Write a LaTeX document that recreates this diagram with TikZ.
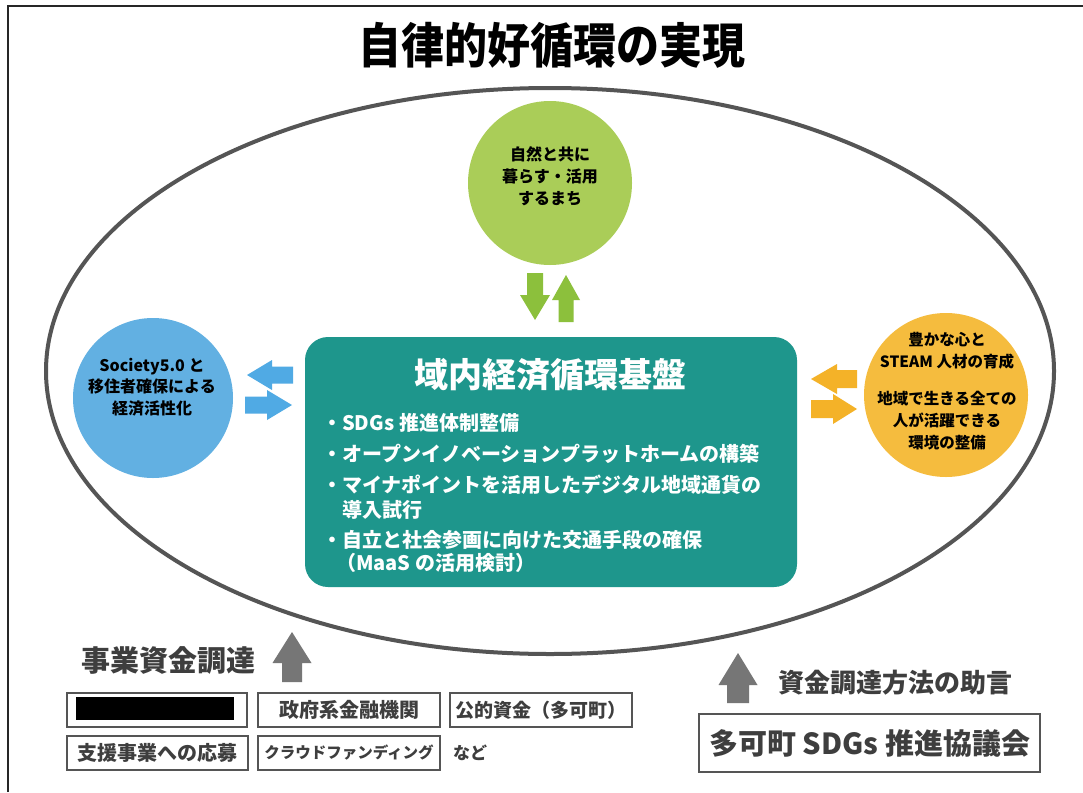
\documentclass[tikz,border=0pt]{standalone}
\usepackage{graphicx}
\usepackage{fontspec}
\setmainfont{Noto Sans CJK JP}
\definecolor{cgreen}{RGB}{170,205,88}
\definecolor{cgreenA}{RGB}{140,192,60}
\definecolor{cblue}{RGB}{98,176,226}
\definecolor{cblueA}{RGB}{80,170,228}
\definecolor{corange}{RGB}{245,188,62}
\definecolor{corangeA}{RGB}{244,178,40}
\definecolor{cteal}{RGB}{30,150,140}
\definecolor{cgraytext}{RGB}{62,62,62}
\definecolor{cgrayarrow}{RGB}{118,118,118}
\definecolor{cline}{RGB}{85,85,85}
\newcommand\myfs[2]{\fontsize{#1}{#2}\selectfont}
\tikzset{
  pics/blockarrow/.style args={#1/#2/#3/#4}{code={
    \fill (0,-#4/2) -- (#1-#2,-#4/2) -- (#1-#2,-#3/2) -- (#1,0) -- (#1-#2,#3/2) -- (#1-#2,#4/2) -- (0,#4/2) -- cycle;}},
  bubble/.style={circle, inner sep=0pt, minimum size=#1},
  bubbletext/.style={align=center, inner sep=0pt, font=\bfseries\myfs{16}{22}},
  itemtext/.style={anchor=west, inner sep=0pt, text=white, font=\bfseries\myfs{20}{25}},
  smallbox/.style={draw=cline, line width=1.4pt, minimum width=182pt, minimum height=34pt, inner sep=0pt, text=cgraytext},
  headtext/.style={inner sep=0pt, text=cgraytext, font=\bfseries\myfs{#1}{#1}},
}
\begin{document}
\begin{tikzpicture}[x=1pt,y=-1pt]
\useasboundingbox (0,0) rectangle (1083,792);
\fill[white] (0,0) rectangle (1083,792);
% frame
\coordinate (fr1) at (8,6);
\coordinate (fr2) at (1083,6);
\coordinate (fr3) at (8,792);
\draw[line width=2pt, black!85] (fr3) -- (fr1) -- (fr2);

% title
\node[inner sep=0pt, font=\bfseries\myfs{43}{43}] (title) at (552,45) {\scalebox{1.0}[1.12]{自律的好循環の実現}};

% big ellipse
\node[inner sep=0pt] (ecenter) at (550,371) {};
\draw[cline, line width=4pt] (ecenter) ellipse [x radius=504, y radius=283];

% green circle
\node[bubble=164pt, fill=cgreen] (nature) at (550,183) {};
\node[bubbletext] (naturetext) at (550,176) {自然と共に\\暮らす・活用\\するまち};

% blue circle
\node[bubble=160pt, fill=cblue] (society) at (153,398) {};
\node[bubbletext, font=\bfseries\myfs{16}{21.5}] (societytext) at (152,387) {Society5.0 と\\移住者確保による\\経済活性化};

% orange circle
\node[bubble=164pt, fill=corange] (heart) at (946,395) {};
\node[bubbletext, font=\bfseries\myfs{15.5}{22}] (hearttext) at (947,391.5) {豊かな心と\\STEAM 人材の育成\\[15pt]地域で生きる全ての\\人が活躍できる\\環境の整備};

% teal box
\node[fill=cteal, rounded corners=23pt, minimum width=492pt, minimum height=250pt, inner sep=0pt] (base) at (551,462) {};
\node[inner sep=0pt, text=white, font=\bfseries\myfs{34}{34}] (basetitle) at (550,375) {域内経済循環基盤};
\node[itemtext] (it1) at (322,423) {・SDGs 推進体制整備};
\node[itemtext] (it2) at (322,454) {・オープンイノベーションプラットホームの構築};
\node[itemtext] (it3) at (322,485) {・マイナポイントを活用したデジタル地域通貨の};
\node[itemtext] (it3b) at (342,510) {導入試行};
\node[itemtext] (it4) at (322,540) {・自立と社会参画に向けた交通手段の確保};
\node[itemtext] (it4b) at (336,563) {（MaaS の活用検討）};

% arrows between circles and box
\coordinate (gA) at (535,273);
\coordinate (gB) at (566,322);
\pic[fill=cgreenA, rotate=-90] at (gA) {blockarrow=47/25/30/16};
\pic[fill=cgreenA, rotate=90] at (gB) {blockarrow=47/25/28/15};
\coordinate (bA) at (293,375);
\coordinate (bB) at (245,405);
\pic[fill=cblueA, rotate=180] at (bA) {blockarrow=46/25/30/17};
\pic[fill=cblueA] at (bB) {blockarrow=47/25/30/17};
\coordinate (oA) at (857,379);
\coordinate (oB) at (811,409);
\pic[fill=corangeA, rotate=180] at (oA) {blockarrow=46/26/30/18};
\pic[fill=corangeA] at (oB) {blockarrow=46/24/30/18};

% bottom left
\node[headtext=29] (funding) at (168,660) {事業資金調達};
\coordinate (fa) at (292,682);
\pic[fill=cgrayarrow, rotate=90] at (fa) {blockarrow=50/31/39/20};
\node[smallbox, minimum width=180pt] (rb) at (157,710) {};
\node[fill=black, minimum width=158pt, minimum height=23pt, inner sep=0pt] (rbfill) at (155,708.5) {};
\node[smallbox, font=\bfseries\myfs{20}{20}] (gb) at (349,710) {政府系金融機関};
\node[smallbox, font=\bfseries\myfs{19}{19}] (pb) at (541,710) {公的資金（多可町）};
\node[smallbox, minimum width=181pt, font=\bfseries\myfs{20}{20}] (sb) at (157.5,753) {支援事業への応募};
\node[smallbox, font=\bfseries\myfs{15.5}{15.5}] (cb) at (349,753) {クラウドファンディング};
\node[inner sep=0pt, text=cgraytext, font=\bfseries\myfs{17}{17}] (nado) at (470,753) {など};

% bottom right
\coordinate (fb) at (738,703);
\pic[fill=cgrayarrow, rotate=90] at (fb) {blockarrow=50/32/39/22};
\node[headtext=26] (advice) at (895,683) {資金調達方法の助言};
\node[draw=cline, line width=1.6pt, minimum width=341pt, minimum height=58pt, inner sep=0pt, text=cgraytext, font=\bfseries\myfs{29}{29}] (council) at (869.5,743) {多可町 SDGs 推進協議会};
\end{tikzpicture}
\end{document}
